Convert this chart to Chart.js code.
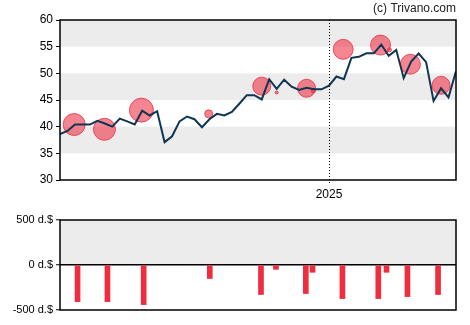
<!DOCTYPE html>
<html>
<head>
<meta charset="utf-8">
<script src="https://cdn.jsdelivr.net/npm/chart.js@4.4.1/dist/chart.umd.min.js"></script>
<style>
  body { margin: 0; background: #fff; }
  #wrap { position: relative; width: 470px; height: 325px; }
  #price-chart { position: absolute; left: 0; top: 0; }
  #trade-chart { position: absolute; left: 0; top: 200px; }
</style>
</head>
<body>
<div id="wrap">
  <canvas id="price-chart" width="470" height="200"></canvas>
  <canvas id="trade-chart" width="470" height="125"></canvas>
</div>
<script>
// Weekly closing prices (week 0 .. 53)
const prices = [38.6, 39.2, 40.4, 40.4, 40.4, 41.1, 40.6, 40.0, 41.5, 41.0,
  40.4, 43.0, 42.1, 42.9, 37.1, 38.2, 41.0, 41.9, 41.4, 39.9,
  41.4, 42.4, 42.1, 42.75, 44.3, 45.9, 45.9, 45.1, 48.9, 47.1,
  48.8, 47.5, 46.9, 47.3, 47.0, 47.0, 47.7, 49.4, 48.9, 52.9,
  53.1, 53.75, 53.75, 55.4, 53.3, 54.4, 49.1, 52.2, 53.7, 52.1,
  44.8, 47.2, 45.5, 50.4];

// Insider trades: week position, price at trade, bubble size
const tradeWeeks = [1.9, 5.95, 10.9, 19.9, 27, 29, 33, 33.9, 37.9, 42.9, 44.1, 46.9, 51];
const tradePrices = [40.4, 39.5, 43.1, 42.4, 47.6, 46.4, 47.2, 46.7, 54.5, 55.3, 54.4, 51.7, 47.75];
const tradeSizes = [11, 11, 12, 4, 9, 1.5, 9, 2, 10, 10, 2, 10, 9];

// Net trade value bars (d.$)
const barWeeks = [2.35, 6.35, 11.2, 20.05, 26.9, 28.9, 32.9, 33.8, 37.8, 42.6, 43.7, 46.5, 50.6];
const barValues = [-407, -407, -440, -150, -328, -48, -317, -81, -373, -373, -81, -351, -328];

// Axis ticks
const yearStart = 36;
const yearLabel = '2025';
const priceBands = [[35, 40], [45, 50], [55, 60]];

const FONT = '"Liberation Sans", Arial, sans-serif';
const LINE_COLOR = '#0f3552';
const RED = '#ef2d3f';
const BAND = '#ececec';

Chart.defaults.font.family = FONT;
Chart.defaults.color = '#000';
Chart.defaults.animation = false;

// Grey bands, dotted year line and frame
const decor = {
    id: 'decor',
    beforeDraw(chart, args, opts) {
        const { ctx, chartArea: a, scales } = chart;
        ctx.save();
        ctx.fillStyle = BAND;
        opts.bands.forEach(([lo, hi]) => {
            const y1 = scales.y.getPixelForValue(hi);
            const y2 = scales.y.getPixelForValue(lo);
            ctx.fillRect(a.left, y1, a.right - a.left, y2 - y1);
        });
        if (opts.year !== undefined) {
            const x = Math.round(scales.x.getPixelForValue(opts.year)) + 0.5;
            ctx.strokeStyle = '#000';
            ctx.lineWidth = 1;
            ctx.setLineDash([1, 2]);
            ctx.beginPath();
            ctx.moveTo(x, a.top);
            ctx.lineTo(x, a.bottom + 4);
            ctx.stroke();
        }
        ctx.restore();
    },
    afterDraw(chart, args, opts) {
        const { ctx, chartArea: a } = chart;
        ctx.save();
        ctx.strokeStyle = '#000';
        ctx.lineWidth = 1.5;
        ctx.strokeRect(a.left, a.top, a.right - a.left, a.bottom - a.top);
        if (opts.credit) {
            ctx.font = '12px ' + FONT;
            ctx.fillStyle = '#222';
            ctx.textAlign = 'right';
            ctx.textBaseline = 'middle';
            ctx.fillText(opts.credit, a.right, 9);
        }
        ctx.restore();
    }
};

// Price chart
new Chart(document.getElementById('price-chart'), {
    type: 'line',
    data: {
        datasets: [{
            type: 'line',
            data: prices.map((v, i) => ({ x: i, y: v })),
            borderColor: LINE_COLOR,
            borderWidth: 2,
            pointRadius: 0,
            tension: 0
        }, {
            type: 'bubble',
            data: tradeWeeks.map((w, i) => ({ x: w, y: tradePrices[i], r: tradeSizes[i] })),
            backgroundColor: 'rgba(238, 45, 65, 0.58)',
            borderColor: 'rgba(232, 40, 60, 0.75)',
            borderWidth: 1
        }]
    },
    options: {
        responsive: false,
        layout: { padding: { top: 20, right: 14, left: 0, bottom: 0 } },
        plugins: {
            legend: { display: false },
            tooltip: { enabled: false },
            decor: { bands: priceBands, year: yearStart, credit: '(c) Trivano.com' }
        },
        scales: {
            x: {
                type: 'linear',
                min: 0,
                max: prices.length - 1,
                border: { display: false },
                grid: { display: false, drawTicks: true, tickLength: 4 },
                afterBuildTicks: s => { s.ticks = [{ value: yearStart }]; },
                afterFit: s => { s.height = 20; },
                ticks: {
                    autoSkip: false,
                    maxRotation: 0,
                    padding: 3,
                    font: { size: 12 },
                    callback: () => yearLabel
                }
            },
            y: {
                min: 30,
                max: 60,
                border: { display: false },
                grid: { drawOnChartArea: false, tickLength: 4, tickColor: '#000', tickWidth: 1 },
                afterFit: s => { s.width = 60; },
                ticks: { stepSize: 5, padding: 3, font: { size: 12 } }
            }
        }
    },
    plugins: [decor]
});

// Trade value chart
new Chart(document.getElementById('trade-chart'), {
    type: 'bar',
    data: {
        datasets: [{
            data: barWeeks.map((w, i) => ({ x: w, y: barValues[i] })),
            backgroundColor: RED,
            barThickness: 5
        }]
    },
    options: {
        responsive: false,
        layout: { padding: { top: 20, right: 14, left: 0, bottom: 15 } },
        plugins: {
            legend: { display: false },
            tooltip: { enabled: false },
            decor: { bands: [[0, 500]] }
        },
        scales: {
            x: {
                type: 'linear',
                display: false,
                offset: false,
                min: 0,
                max: prices.length - 1
            },
            y: {
                min: -500,
                max: 500,
                border: { display: false },
                grid: {
                    color: c => c.tick && c.tick.value === 0 ? '#000' : 'rgba(0,0,0,0)',
                    lineWidth: 1.5,
                    tickLength: 4,
                    tickColor: '#000',
                    tickWidth: 1
                },
                afterFit: s => { s.width = 60; },
                ticks: {
                    stepSize: 500,
                    padding: 3,
                    font: { size: 11 },
                    callback: v => v + ' d.$'
                }
            }
        }
    },
    plugins: [decor]
});
</script>
</body>
</html>
